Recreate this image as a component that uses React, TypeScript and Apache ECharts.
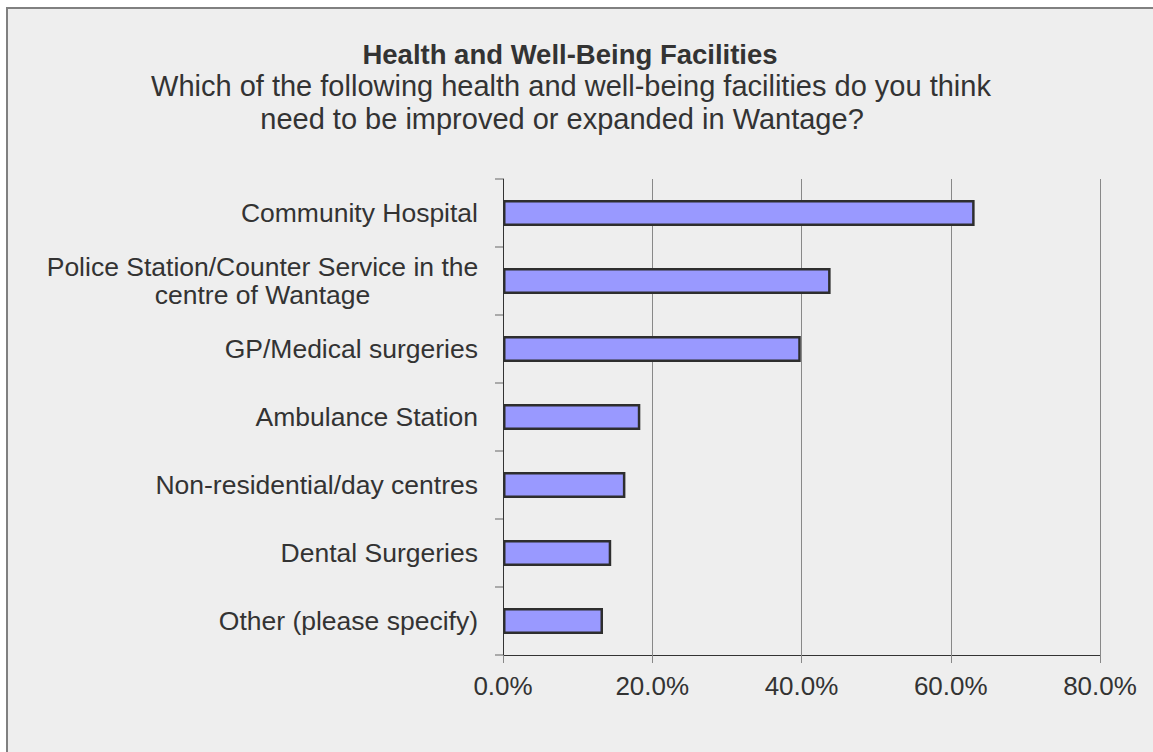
import React, { useEffect, useRef } from "react";
import * as echarts from "echarts";

const titleText = "Health and Well-Being Facilities";
const subtitleLine1 = "Which of the following health and well-being facilities do you think";
const subtitleLine2 = "need to be improved or expanded in Wantage?";

const categories = [
  "Community Hospital",
  "Police Station/Counter Service in the\ncentre of Wantage",
  "GP/Medical surgeries",
  "Ambulance Station",
  "Non-residential/day centres",
  "Dental Surgeries",
  "Other (please specify)",
];

const values = [63.2, 43.9, 39.9, 18.4, 16.4, 14.5, 13.4];

const xTicks = { min: 0, max: 80, interval: 20 };

const FONT = "'Liberation Sans', Arial, sans-serif";

export default function App() {
  const ref = useRef<HTMLDivElement>(null);

  useEffect(() => {
    if (!ref.current) return;
    const chart = echarts.init(ref.current, undefined, { renderer: "svg" });
    chart.setOption({
      animation: false,
      backgroundColor: "#ffffff",
      textStyle: { fontFamily: FONT },
      graphic: [
        {
          type: "rect",
          z: -10,
          silent: true,
          shape: { x: 7, y: 8, width: 1200, height: 800 },
          style: { fill: "#eeeeee", stroke: "#808080", lineWidth: 2 },
        },
      ],
      title: [
        {
          text: titleText,
          left: 565,
          textAlign: "center",
          top: 35,
          textStyle: { fontFamily: FONT, fontSize: 27.5, fontWeight: "bold", color: "#333333" },
        },
        {
          text: subtitleLine1,
          left: 566,
          textAlign: "center",
          top: 66,
          textStyle: { fontFamily: FONT, fontSize: 29, fontWeight: "normal", color: "#333333" },
        },
        {
          text: subtitleLine2,
          left: 557,
          textAlign: "center",
          top: 99,
          textStyle: { fontFamily: FONT, fontSize: 29, fontWeight: "normal", color: "#333333" },
        },
      ],
      grid: { left: 503, right: 53, top: 179, bottom: 97, containLabel: false },
      xAxis: {
        type: "value",
        min: xTicks.min,
        max: xTicks.max,
        interval: xTicks.interval,
        axisLine: { show: true, lineStyle: { color: "#333333", width: 1 } },
        axisTick: { show: true, length: 8, lineStyle: { color: "#888888" } },
        splitLine: { show: true, lineStyle: { color: "#888888", width: 1 } },
        axisLabel: {
          margin: 18,
          fontSize: 26,
          color: "#333333",
          fontFamily: FONT,
          formatter: (v: number) => v.toFixed(1) + "%",
        },
      },
      yAxis: {
        type: "category",
        inverse: true,
        data: categories,
        axisLine: { show: true, lineStyle: { color: "#333333", width: 1 } },
        axisTick: { show: true, length: 8, lineStyle: { color: "#aaaaaa", width: 2 } },
        axisLabel: {
          margin: 25,
          fontSize: 26.5,
          color: "#333333",
          fontFamily: FONT,
          lineHeight: 28,
          formatter: (v: string) => {
            if (v.indexOf("\n") >= 0) {
              return v
                .split("\n")
                .map((s) => "{c|" + s + "}")
                .join("\n");
            }
            return v;
          },
          rich: {
            c: {
              width: 431,
              align: "center",
              fontSize: 26.5,
              lineHeight: 28,
              color: "#333333",
              fontFamily: FONT,
            },
          },
        },
      },
      series: [
        {
          type: "bar",
          data: values,
          barWidth: 26,
          itemStyle: { color: "#9999ff", borderColor: "#2e2e2e", borderWidth: 2.5 },
        },
      ],
    });
    return () => chart.dispose();
  }, []);

  return (
    <div
      ref={ref}
      style={{ position: "fixed", left: 0, top: 0, width: 1153, height: 752 }}
    />
  );
}
